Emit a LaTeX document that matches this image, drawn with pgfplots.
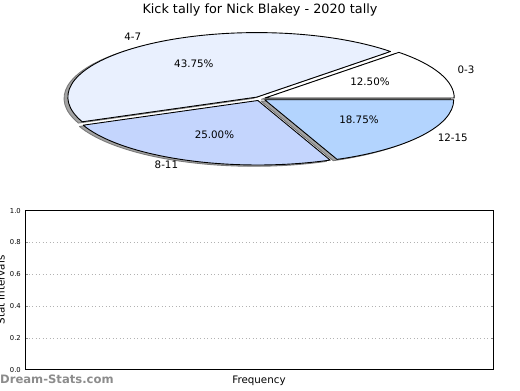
\documentclass[border=0pt]{standalone}
\usepackage{pgfplots}
\pgfplotsset{compat=1.18}
\usepackage{pgfplotstable}
\usepackage{fontspec}
\setmainfont{DejaVu Sans}

\definecolor{c0}{HTML}{FFFFFF}
\definecolor{c1}{HTML}{E9F0FE}
\definecolor{c2}{HTML}{C4D5FD}
\definecolor{c3}{HTML}{B3D4FE}

\pgfplotstableread{
label pct col
0-3 12.50 c0
4-7 43.75 c1
8-11 25.00 c2
12-15 18.75 c3
}\kicktable

\newcommand\W[2]{\csname w#1#2\endcsname}
\def\RX{189}
\def\RY{64.5}
\def\CX{260}
\def\CY{98.7}

\begin{document}
\begin{tikzpicture}[x=1bp,y=1bp]
\path[use as bounding box] (0,0) rectangle (520,390);
\clip (0,0) rectangle (520,390);

% angles and positions of the wedges, from the table
\def\cum{0}
\pgfplotsforeachungrouped \i in {0,...,3}{%
  \pgfplotstablegetelem{\i}{pct}\of\kicktable
  \let\val\pgfplotsretval
  \expandafter\xdef\csname wv\i\endcsname{\val}%
  \pgfplotstablegetelem{\i}{label}\of\kicktable
  \expandafter\xdef\csname wlab\i\endcsname{\pgfplotsretval}%
  \pgfplotstablegetelem{\i}{col}\of\kicktable
  \expandafter\xdef\csname wcol\i\endcsname{\pgfplotsretval}%
  \pgfmathsetmacro\wS{\cum*3.6}%
  \pgfmathsetmacro\cum{\cum+\val}%
  \pgfmathsetmacro\wE{\cum*3.6}%
  \pgfmathsetmacro\wM{(\wS+\wE)/2}%
  \pgfmathsetmacro\wX{\CX+0.03*\RX*cos(\wM)}%
  \pgfmathsetmacro\wY{\CY-0.03*\RY*sin(\wM)}%
  \pgfmathsetmacro\pX{\wX+0.6*\RX*cos(\wM)}%
  \pgfmathsetmacro\pY{\wY-0.6*\RY*sin(\wM)}%
  \pgfmathsetmacro\lX{\wX+1.1*\RX*cos(\wM)}%
  \pgfmathsetmacro\lY{\wY-1.1*\RY*sin(\wM)}%
  \pgfmathparse{cos(\wM)>0?1:0}%
  \ifdim\pgfmathresult pt>0.5pt \def\anc{base west}\else\def\anc{base east}\fi
  \expandafter\xdef\csname ws\i\endcsname{\wS}%
  \expandafter\xdef\csname we\i\endcsname{\wE}%
  \expandafter\xdef\csname wx\i\endcsname{\wX}%
  \expandafter\xdef\csname wy\i\endcsname{\wY}%
  \expandafter\xdef\csname wpx\i\endcsname{\pX}%
  \expandafter\xdef\csname wpy\i\endcsname{\pY}%
  \expandafter\xdef\csname wlx\i\endcsname{\lX}%
  \expandafter\xdef\csname wly\i\endcsname{\lY}%
  \expandafter\xdef\csname wa\i\endcsname{\anc}%
}

\begin{axis}[at={(0bp,0bp)}, anchor=south west, scale only axis,
  width=520bp, height=390bp, xmin=0, xmax=520, ymin=0, ymax=390,
  enlargelimits=false, y dir=reverse, hide axis, clip=false]
% shadows
\pgfplotsinvokeforeach{0,...,3}{
  \filldraw[fill=black!36, draw=black!52, line width=0.9bp, line join=round]
    (axis cs:{\W{x}{#1}-3.8},{\W{y}{#1}+1.3}) -- ++(\W{s}{#1}:\RX bp and \RY bp)
    arc[start angle=\W{s}{#1}, end angle=\W{e}{#1}, x radius=\RX bp, y radius=\RY bp] -- cycle;
}
% wedges
\pgfplotsinvokeforeach{0,...,3}{
  \filldraw[fill=\W{col}{#1}, draw=black, line width=0.9bp, line join=round]
    (axis cs:\W{x}{#1},\W{y}{#1}) -- ++(\W{s}{#1}:\RX bp and \RY bp)
    arc[start angle=\W{s}{#1}, end angle=\W{e}{#1}, x radius=\RX bp, y radius=\RY bp] -- cycle;
}
% texts
\pgfplotsinvokeforeach{0,...,3}{
  \node[anchor=base, inner sep=0pt, yshift=-0.26em, font=\fontsize{10.3bp}{12bp}\selectfont,
        /pgf/number format/assume math mode=true]
    at (axis cs:\W{px}{#1},\W{py}{#1})
    {\pgfmathprintnumber[fixed,fixed zerofill,precision=2]{\W{v}{#1}}\%};
  \node[anchor=\W{a}{#1}, inner sep=0pt, yshift=-0.26em, font=\fontsize{10.3bp}{12bp}\selectfont]
    at (axis cs:\W{lx}{#1},\W{ly}{#1}) {\W{lab}{#1}};
}
\node[anchor=base, inner sep=0pt, font=\fontsize{12.8bp}{15bp}\selectfont]
  at (axis cs:260,13.5) {Kick tally for Nick Blakey - 2020 tally};
\end{axis}

\begin{axis}[at={(25bp,20.3bp)}, anchor=south west, scale only axis,
  width=468.3bp, height=159bp,
  xmin=0, xmax=1, ymin=0, ymax=1, enlargelimits=false,
  xtick=\empty, ytick={0,0.2,0.4,0.6,0.8,1.0},
  /pgf/number format/assume math mode=true,
  yticklabel={\pgfmathprintnumber[fixed,fixed zerofill,precision=1]{\tick}},
  yticklabel style={inner sep=0pt, xshift=-4bp, font=\fontsize{6.8bp}{8bp}\selectfont},
  ymajorgrids,
  major grid style={black!30, dash pattern=on 1bp off 2.5bp, line width=0.8bp},
  tick align=inside, major tick length=2.5bp,
  ytick style={black!45, line width=0.8bp},
  axis line style={line width=0.9bp},
]
\end{axis}

\node[anchor=base, inner sep=0pt, rotate=90, font=\fontsize{10.3bp}{12bp}\selectfont]
  at (4.7bp,100bp) {Stat Intervals};
\node[anchor=base, inner sep=0pt, font=\fontsize{10.3bp}{12bp}\selectfont]
  at (259bp,7bp) {Frequency};
\node[anchor=base west, inner sep=0pt, text=black!45, font=\fontsize{11.6bp}{13bp}\selectfont\bfseries]
  at (0bp,6.5bp) {Dream-Stats.com};
\end{tikzpicture}
\end{document}
